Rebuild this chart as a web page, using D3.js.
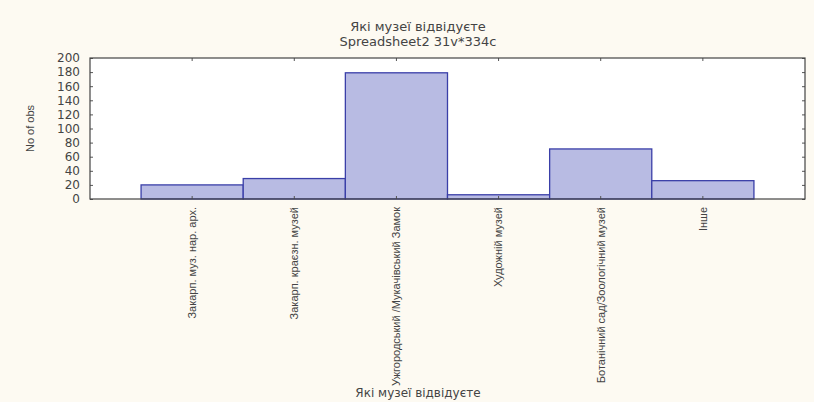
<!DOCTYPE html>
<html>
<head>
<meta charset="utf-8">
<script src="https://cdn.jsdelivr.net/npm/d3@7"></script>
<style>
  body { margin: 0; background: #fdfaf2; }
  svg { display: block; font-family: "Liberation Sans", Arial, sans-serif; }
  .axis text { fill: #444; font-size: 11px; }
  .y-axis text { font-family: "DejaVu Sans", sans-serif; font-size: 12px; }
  .axis path, .axis line { stroke: #555; }
</style>
</head>
<body>
<svg id="figure"></svg>
<script>
const titleLines = ["Які музеї відвідуєте", "Spreadsheet2 31v*334c"];
const xTitle = "Які музеї відвідуєте";
const yTitle = "No of obs";

const categories = [
    "Закарп. муз. нар. арх.",
    "Закарп. краєзн. музей",
    "Ужгородський /Мукачівський Замок",
    "Художній музей",
    "Ботанічний сад/Зоологічний музей",
    "Інше"
];
const counts = [20, 29, 179, 6, 71, 26];
const yTicks = [0, 20, 40, 60, 80, 100, 120, 140, 160, 180, 200];

const margin = {top: 58, right: 9, bottom: 203, left: 90};
const W = 814, H = 402;
const width = W - margin.left - margin.right;
const height = H - margin.top - margin.bottom;

const root = d3.select("#figure").attr("width", W).attr("height", H);

const svg = root.append("g")
    .attr("transform", "translate(" + margin.left + "," + margin.top + ")");

// 7 band slots so the bars sit half a band in from each side
const x = d3.scaleBand()
    .domain(categories)
    .range([0, width])
    .paddingInner(0)
    .paddingOuter(0.5);

const y = d3.scaleLinear()
    .domain([0, 200])
    .range([height, 0]);

svg.append("rect")
    .attr("width", width)
    .attr("height", height)
    .attr("fill", "#fff");

svg.selectAll("rect.bar")
    .data(counts)
    .enter().append("rect")
    .attr("class", "bar")
    .attr("x", (d, i) => x(categories[i]))
    .attr("y", d => y(d))
    .attr("width", x.bandwidth())
    .attr("height", d => height - y(d))
    .attr("fill", "#b8bbe3")
    .attr("stroke", "#3a3fa8")
    .attr("stroke-width", 1.3);

// y axis
svg.append("g")
    .attr("class", "axis y-axis")
    .call(d3.axisLeft(y).tickValues(yTicks).tickSize(-3).tickPadding(10))
    .call(g => g.select(".domain").remove());

svg.append("g")
    .attr("class", "axis")
    .attr("transform", "translate(" + width + ",0)")
    .call(d3.axisRight(y).tickValues(yTicks).tickSize(-3).tickFormat(""))
    .call(g => g.select(".domain").remove());

// x axis
svg.append("g")
    .attr("class", "axis x-axis")
    .attr("transform", "translate(0," + height + ")")
    .call(d3.axisBottom(x).tickSize(-3).tickPadding(9))
    .call(g => g.select(".domain").remove())
    .selectAll("text")
    .attr("transform", "rotate(-90)")
    .attr("text-anchor", "end")
    .attr("dy", "0.35em")
    .attr("x", -8)
    .attr("y", 0);

svg.append("g")
    .attr("class", "axis")
    .call(d3.axisTop(x).tickSize(-3).tickFormat(""))
    .call(g => g.select(".domain").remove());

// frame
svg.append("rect")
    .attr("width", width)
    .attr("height", height)
    .attr("fill", "none")
    .attr("stroke", "#444")
    .attr("stroke-width", 1.2);

// titles
root.selectAll("text.title")
    .data(titleLines)
    .enter().append("text")
    .attr("class", "title")
    .attr("x", 418)
    .attr("y", (d, i) => 31 + i * 15)
    .attr("text-anchor", "middle")
    .attr("font-family", "DejaVu Sans, sans-serif")
    .attr("font-size", "13px")
    .attr("fill", "#444")
    .text(d => d);

root.append("text")
    .attr("transform", "translate(34," + (margin.top + height / 2) + ") rotate(-90)")
    .attr("text-anchor", "middle")
    .attr("font-size", "11px")
    .attr("fill", "#444")
    .text(yTitle);

root.append("text")
    .attr("x", 418)
    .attr("y", 397)
    .attr("text-anchor", "middle")
    .attr("font-family", "DejaVu Sans, sans-serif")
    .attr("font-size", "12px")
    .attr("fill", "#444")
    .text(xTitle);
</script>
</body>
</html>
